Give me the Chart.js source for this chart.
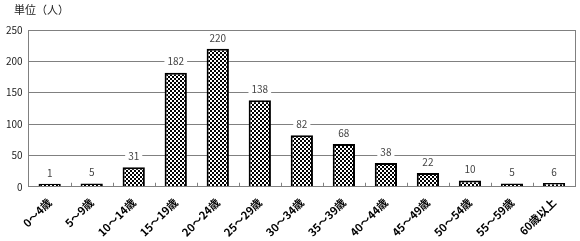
<!DOCTYPE html>
<html><head><meta charset="utf-8">
<script src="https://cdn.jsdelivr.net/npm/chart.js@4"></script>
<style>html,body{margin:0;padding:0;background:#fff;}#wrap{width:580px;height:241px;}</style>
</head><body><div id="wrap"><canvas id="c" width="580" height="241"></canvas></div>
<script>
const categories = ["0～4歳","5～9歳","10～14歳","15～19歳","20～24歳","25～29歳","30～34歳","35～39歳","40～44歳","45～49歳","50～54歳","55～59歳","60歳以上"];
const counts = [1,5,31,182,220,138,82,68,38,22,10,5,6];
const yTicks = [0,50,100,150,200,250];
const unitLabel = "単位（人）";

const FONT = "'Noto Sans CJK JP', 'DejaVu Sans', sans-serif";

function makePattern(){
  const p = document.createElement('canvas');
  p.width = 4; p.height = 4;
  const g = p.getContext('2d');
  g.fillStyle = '#fff'; g.fillRect(0,0,4,4);
  g.fillStyle = '#000';
  g.fillRect(0,0,2,2); g.fillRect(2,2,2,2);
  return document.getElementById('c').getContext('2d').createPattern(p,'repeat');
}

const overlay = {
  id:'overlay',
  afterDatasetsDraw(chart){
    const ctx = chart.ctx;
    const meta = chart.getDatasetMeta(0);
    const xs = chart.scales.x, area = chart.chartArea;
    ctx.save();
    ctx.strokeStyle = '#808080'; ctx.lineWidth = 1;
    for(let i=1;i<categories.length;i++){
      const x = Math.round((xs.getPixelForValue(i-1)+xs.getPixelForValue(i))/2)+0.5;
      ctx.beginPath(); ctx.moveTo(x, area.bottom); ctx.lineTo(x, area.bottom-4); ctx.stroke();
    }
    ctx.font = "10px " + FONT;
    ctx.textAlign = 'center'; ctx.textBaseline = 'middle';
    meta.data.forEach((bar,i)=>{
      const txt = String(counts[i]);
      const w = ctx.measureText(txt).width + 6;
      const y = bar.y - 11;
      ctx.fillStyle = '#fff';
      ctx.fillRect(bar.x - w/2, y-6, w, 12);
      ctx.fillStyle = '#444';
      ctx.fillText(txt, bar.x, y);
    });
    ctx.textAlign = 'left';
    ctx.font = "11px " + FONT;
    ctx.fillStyle = '#222';
    ctx.fillText(unitLabel, 14, 10);
    ctx.restore();
  }
};

new Chart(document.getElementById('c'), {
  type:'bar',
  data:{ labels:categories, datasets:[{ data:counts, backgroundColor:makePattern(), borderColor:'#000', borderWidth:2, barPercentage:0.53, categoryPercentage:1.0, minBarLength:3 }]},
  options:{
    responsive:false, animation:false, devicePixelRatio:1,
    layout:{ padding:{ top:30, right:5, left:0, bottom:1 } },
    plugins:{ legend:{display:false}, tooltip:{enabled:false} },
    scales:{
      x:{ grid:{ display:false, offset:true }, border:{ color:'#808080', width:1 },
          ticks:{ minRotation:45, maxRotation:45, color:'#000', font:{ size:11, family:FONT, weight:'bold' }, padding:1 } },
      y:{ min:0, max:250, afterBuildTicks(ax){ ax.ticks = yTicks.map(v=>({value:v})); },
          grid:{ color:'#808080', drawTicks:false }, border:{ color:'#808080' },
          ticks:{ color:'#222', font:{ size:10, family:FONT }, padding:6 } }
    }
  },
  plugins:[overlay,{
    id:'rightBorder',
    afterDraw(chart){ const c=chart.ctx,a=chart.chartArea; c.save(); c.strokeStyle='#808080'; c.lineWidth=1; c.beginPath(); c.moveTo(Math.round(a.right)+0.5,a.top); c.lineTo(Math.round(a.right)+0.5,a.bottom); c.stroke(); c.restore(); }
  }]
});
</script></body></html>
